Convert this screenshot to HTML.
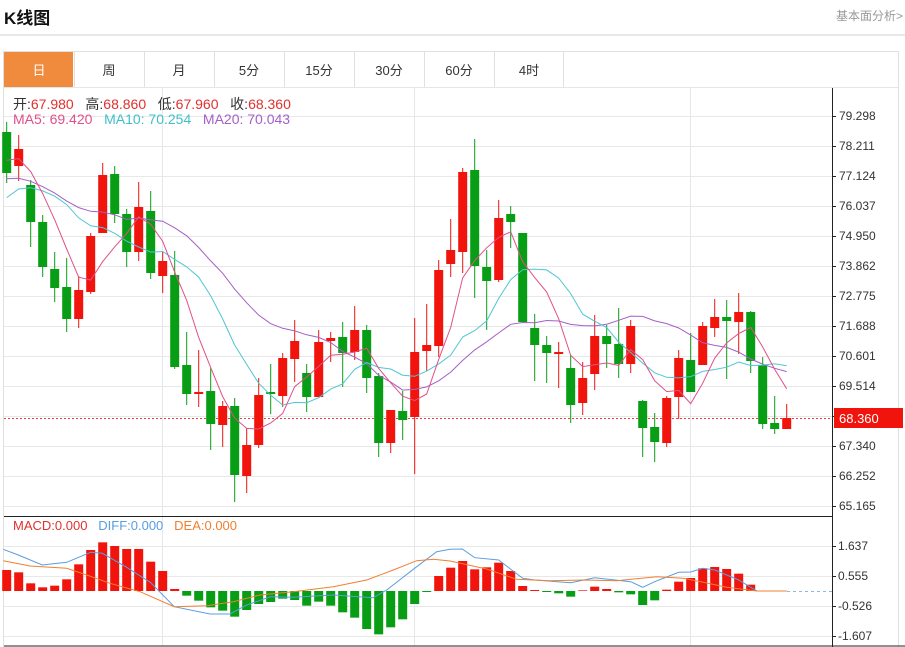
<!DOCTYPE html>
<html><head><meta charset="utf-8">
<style>
body{margin:0;width:905px;height:647px;background:#fff;font-family:"Liberation Sans","Noto Sans CJK SC",sans-serif;overflow:hidden;position:relative}
.t{position:absolute;white-space:nowrap}
</style></head><body>
<div class="t" style="left:4px;top:4px;font-size:17px;font-weight:bold;color:#111">K线图</div>
<div class="t" style="left:836px;top:7px;font-size:12px;color:#999">基本面分析&gt;</div>
<svg id="s" width="905" height="647" style="position:absolute;left:0;top:0"></svg>
<script>
var S=document.getElementById('s'),h='';
function L(x1,y1,x2,y2,c,w,d){h+='<line x1="'+x1+'" y1="'+y1+'" x2="'+x2+'" y2="'+y2+'" stroke="'+c+'" stroke-width="'+(w||1)+'"'+(d?' stroke-dasharray="'+d+'"':'')+'/>';}
function R(x,y,w,hh,c){h+='<rect x="'+x+'" y="'+y+'" width="'+w+'" height="'+hh+'" fill="'+c+'"/>';}
function T(x,y,s,c,sz,a){h+='<text x="'+x+'" y="'+y+'" fill="'+c+'" font-size="'+(sz||12)+'"'+(a?' text-anchor="'+a+'"':'')+' font-family="Liberation Sans, Noto Sans CJK SC, sans-serif">'+s+'</text>';}
function P(pts,c,w){h+='<polyline fill="none" stroke="'+c+'" stroke-width="'+(w||1)+'" points="'+pts.map(function(p){return p[0].toFixed(1)+','+p[1].toFixed(1)}).join(' ')+'"/>';}
L(0,35,905,35,'#d0d0d0');
h+='<rect x="3.5" y="51.5" width="895" height="596" fill="none" stroke="#e0e0e0"/>';
R(4,52,69,35,'#f08a3c');
var tabs=['日','周','月','5分','15分','30分','60分','4时'];
for(var i=0;i<8;i++){var x=4+i*70;if(i>0)L(x+0.5,52,x+0.5,87,'#e0e0e0');T(x+35,75,tabs[i],i==0?'#fff':'#333',13,'middle');}
L(563.5,52,563.5,87,'#e0e0e0');
L(4,87.5,898,87.5,'#e6e6e6');
for(var k=0;k<14;k++){var y=116+k*30;L(4,y+.5,832,y+.5,'#e8e8e8');}
[546,576,606,636].forEach(function(y){L(4,y+.5,832,y+.5,'#e8e8e8');});
[162,414,690].forEach(function(x){L(x+.5,88,x+.5,646,'#e3e8ee');});
L(4,516.5,832,516.5,'#222');L(4,646,905,646,'#222');
L(832.5,88,832.5,647,'#222');
var lab=['79.298','78.211','77.124','76.037','74.950','73.862','72.775','71.688','70.601','69.514','','67.340','66.252','65.165'];
for(var k=0;k<14;k++){var y=116+k*30;L(832,y+.5,836,y+.5,'#222');if(lab[k])T(839,y+4,lab[k],'#333',12);}
[['1.637',546],['0.555',576],['-0.526',606],['-1.607',636]].forEach(function(a){L(832,a[1]+.5,836,a[1]+.5,'#222');T(838,a[1]+4,a[0],'#333',12);});
var C=[['g',132,173,122,183],['r',149,166,135,181],['g',185,222,180,247],['g',222,267,215,277],['g',269,288,252,302],['g',287,319,258,332],['r',290,319,276,328],['r',236,292,233,294],['r',175,233,163,233],['g',174,214,166,223],['g',214,252,209,267],['r',207,252,182,261],['g',211,273,191,279],['r',261,276,252,293],['g',275,367,251,369],['g',365,394,332,405],['r',392,394,350,407],['g',391,424,368,450],['r',406,425,401,447],['g',406,475,398,502],['r',445,476,428,493],['r',395,445,378,448],['g',392,394,364,414],['r',358,396,353,407],['r',341,359,320,382],
['g',373,397,364,412],['r',342,397,330,397],['r',338,341,332,362],['g',337,353,322,387],['r',330,352,306,360],['g',330,378,325,393],['g',376,443,373,457],['r',410,443,410,453],['g',411,420,391,440],['r',352,417,318,474],['r',345,351,304,371],['r',270,346,260,357],['r',250,264,219,277],['r',172,252,168,273],['g',170,266,139,298],['g',267,281,250,330],['r',218,280,200,282],['g',214,222,206,248],['g',233,322,233,322],['g',328,345,314,381],['g',345,353,336,383],['r',352,354,342,388],['g',368,405,355,423],['r',378,403,362,415],['r',336,374,315,390],
['g',336,344,325,368],['g',344,364,308,378],['r',326,364,320,373],['g',401,428,400,457],['g',427,442,413,462],['r',398,443,396,447],['r',358,397,350,419],['g',360,392,333,392],['r',326,365,322,365],['r',317,328,299,337],['g',317,321,300,379],['r',312,322,293,354],['g',312,361,311,373],['g',365,424,357,429],['g',423,429,396,434],['r',418,429,404,429]];
var RED='#f0140c',GRN='#079d14';
function X(i){return 6.7+12*i;}
var closes=[];C.forEach(function(c){closes.push(c[0]=='r'?c[1]:c[2]);});
var fake=[];for(var i=0;i<10;i++)fake.push(160);for(i=0;i<5;i++)fake.push(235);for(i=0;i<4;i++)fake.push(157);
var all=fake.concat(closes);
function MA(n){var pts=[];for(var i=0;i<closes.length;i++){var j=i+19,s=0;for(var k=0;k<n;k++)s+=all[j-k];pts.push([X(i),s/n]);}return pts;}
L(4,418.5,832,418.5,'#f04040',1,'2,2');
C.forEach(function(c,i){var x=X(i),col=c[0]=='r'?RED:GRN;L(x,c[3],x,c[4],col,1);R(x-4.5,c[1],9,Math.max(2,c[2]-c[1]),col);});
P(MA(20),'#a55fc7',1);P(MA(10),'#4fc6d2',1);P(MA(5),'#e0508a',1);
R(834,408,69,20,'#f0140c');T(839,423,'68.360','#fff',13);
var M=[[0,180],[1,187],[2,220],[3,232],[4,227],[5,208],[6,163],[7,120],[8,97],[9,108],[10,117],[11,117],[12,155],[13,183],[14,237],
[15,257],[16,272],[17,292],[18,302],[19,320],[20,300],[21,282],[22,276],[23,266],[24,270],[25,287],[26,275],[27,287],[28,307],[29,323],[30,357],[31,373],[32,352],[33,328],[34,282],[35,246],[36,198],[37,173],
[38,153],[39,178],[40,172],[41,158],[42,183],[43,228],[44,240],[45,245],[46,250],[47,260],[48,241],[49,230],[50,237],[51,247],[52,253],[53,285],[54,271],[55,239],[56,215],[57,204],[58,175],[59,171],[60,177],[61,191],[62,224]];
M.forEach(function(m){var y=510+m[1]/3,x=X(m[0]);if(y<591)R(x-4.5,y,9,591-y,RED);else R(x-4.5,591,9,Math.max(1,y-591),GRN);});
function Z5(a){return a.map(function(p){return [p[0]/3,510+p[1]/3];});}
function Z6(a){return a.map(function(p){return [450+p[0]/3,510+p[1]/3];});}
var dif=Z5([[10,118],[55,135],[127,165],[200,157],[272,127],[307,130],[380,172],[452,218],[523,290],[630,312],[690,312],[740,285],[812,260],[880,262],[1000,255],[1120,263],[1160,240],[1250,170],[1310,125],[1350,118]]).concat(Z6([[37,117],[74,143],[146,150],[218,205],[254,210],[362,218],[434,203],[542,215],[578,232],[614,215],[686,187],[722,186],[758,175],[794,180],[866,210],[902,232],[922,243],[1010,243]]));
var dea=Z5([[10,152],[90,168],[200,175],[260,195],[330,220],[420,245],[523,290],[620,287],[700,275],[780,255],[880,245],[1000,230],[1100,210],[1180,180],[1250,152],[1300,148],[1350,153]]).concat(Z6([[110,177],[200,208],[300,212],[400,210],[500,212],[620,200],[700,205],[760,217],[830,232],[920,243],[1010,243]]));
P(dif,'#5a9de0',1);P(dea,'#f08030',1);
L(787,591.5,832,591.5,'#8ab8e0',1,'3,3');
S.innerHTML=h;
</script>
<div class="t" style="left:13px;top:94px;font-size:14px;color:#333">开:<span style="color:#e03030">67.980</span>&nbsp;&nbsp; 高:<span style="color:#e03030">68.860</span>&nbsp;&nbsp; 低:<span style="color:#e03030">67.960</span>&nbsp;&nbsp; 收:<span style="color:#e03030">68.360</span></div>
<div class="t" style="left:13px;top:111px;font-size:14px"><span style="color:#e0508a">MA5: 69.420</span>&nbsp;&nbsp; <span style="color:#3fbfcc">MA10: 70.254</span>&nbsp;&nbsp; <span style="color:#a55fc7">MA20: 70.043</span></div>
<div class="t" style="left:13px;top:518px;font-size:13px"><span style="color:#e03030">MACD:0.000</span>&nbsp;&nbsp; <span style="color:#5a9de0">DIFF:0.000</span>&nbsp;&nbsp; <span style="color:#f08030">DEA:0.000</span></div>
</body></html>
